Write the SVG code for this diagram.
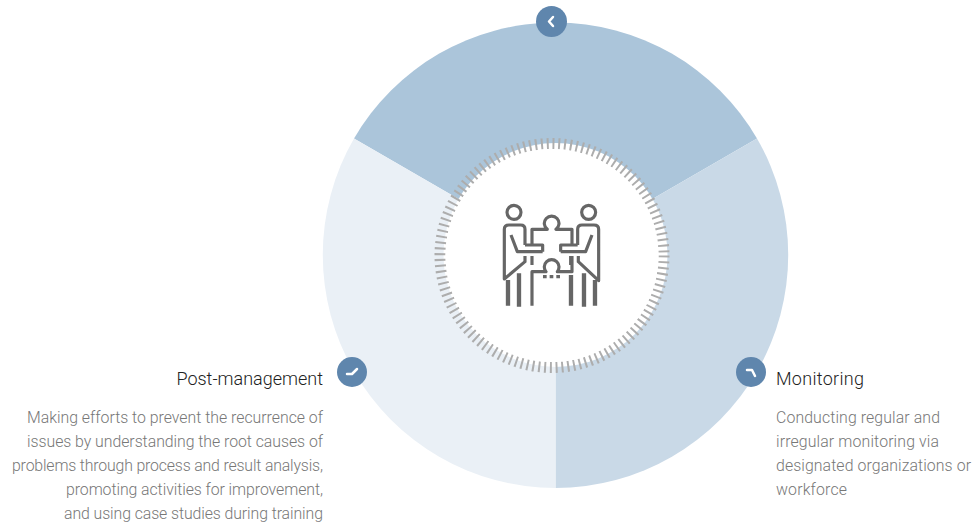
<svg xmlns="http://www.w3.org/2000/svg" width="979" height="525" viewBox="0 0 979 525">
<style>
.h{font:300 18px Roboto,"Noto Sans",sans-serif;fill:#222}
.b{font:300 15.850px Roboto,"Noto Sans",sans-serif;fill:#777}
.e{text-anchor:end}
.i{fill:none;stroke:#666;stroke-width:9.500;stroke-linejoin:round}
.l{stroke-width:13}
.g{fill:none;stroke:#fff;stroke-width:2.500;stroke-linecap:round;stroke-linejoin:round}
.n{fill:#5f86ad}
</style>
<rect width="979" height="525" fill="#fff"/>
<g id="ring">
<path d="M555.5 255L354 138.500A233 233 0 0 1 757 138.500Z" fill="#abc5da"/>
<path d="M555.500 255L757 138.500A233 233 0 0 1 555.500 488Z" fill="#c9d9e7"/>
<path d="M555.500 255L555.500 488A233 233 0 0 1 354 138.500Z" fill="#eaf0f6"/>
<circle cx="555.500" cy="255" r="112" fill="#fff"/>
<circle cx="552" cy="255.500" r="112" fill="none" stroke="#adadad" stroke-width="11" stroke-dasharray="2 3.864"/>
<circle cx="552" cy="255.500" r="106.500" fill="#fff"/>
</g>
<g id="icon" transform="translate(430 130) scale(.3333)">
<circle class="i" cx="252" cy="247" r="21"/><circle class="i" cx="476" cy="247" r="21"/>
<path class="i" d="M306 405V378M338 365H262L243 315M285 345H338V365M285 345V298Q285 285 272 285H237Q223 285 223 298V447L285 395V378"/>
<path class="i" d="M422 378V405M392 365H467L486 315M443 345H392V365M443 345V298Q443 285 456 285H492Q506 285 506 298V452L445 395V378"/>
<path class="i" d="M306 345V298H352A22 22 0 1 1 378 298H426V345M426 378V425H382A22 22 0 1 0 348 425H306V527"/>
<path class="i l" d="M234 450V527M267 430V530M423 435V527M462 430V530M495 450V527"/>
<path class="i" d="M339 440H390" stroke-dasharray="11 9"/>
</g>
<g id="node-top"><circle class="n" cx="551.500" cy="21.500" r="15.500"/><path class="g" d="M553 17L549 21.500L553 26"/></g>
<g id="node-left"><circle class="n" cx="352" cy="372" r="15"/><path class="g" d="M347 374H352L357 369"/></g>
<g id="node-right"><circle class="n" cx="751" cy="372" r="15"/><path class="g" d="M747 370H752L755 376"/></g>
<g id="text-left">
<text class="h e" x="323" y="385">Post-management</text>
<text class="b e" x="323" y="423" textLength="296">Making efforts to prevent the recurrence of</text>
<text class="b e" x="323" y="447" textLength="296">issues by understanding the root causes of</text>
<text class="b e" x="323" y="471" textLength="311">problems through process and result analysis,</text>
<text class="b e" x="323" y="495" textLength="257">promoting activities for improvement,</text>
<text class="b e" x="323" y="519" textLength="259">and using case studies during training</text>
</g>
<g id="text-right">
<text class="h" x="776" y="385" textLength="88">Monitoring</text>
<text class="b" x="776" y="423" textLength="164">Conducting regular and</text>
<text class="b" x="776" y="447" textLength="163">irregular monitoring via</text>
<text class="b" x="776" y="471" textLength="195">designated organizations or</text>
<text class="b" x="776" y="495" textLength="71">workforce</text>
</g>
</svg>
